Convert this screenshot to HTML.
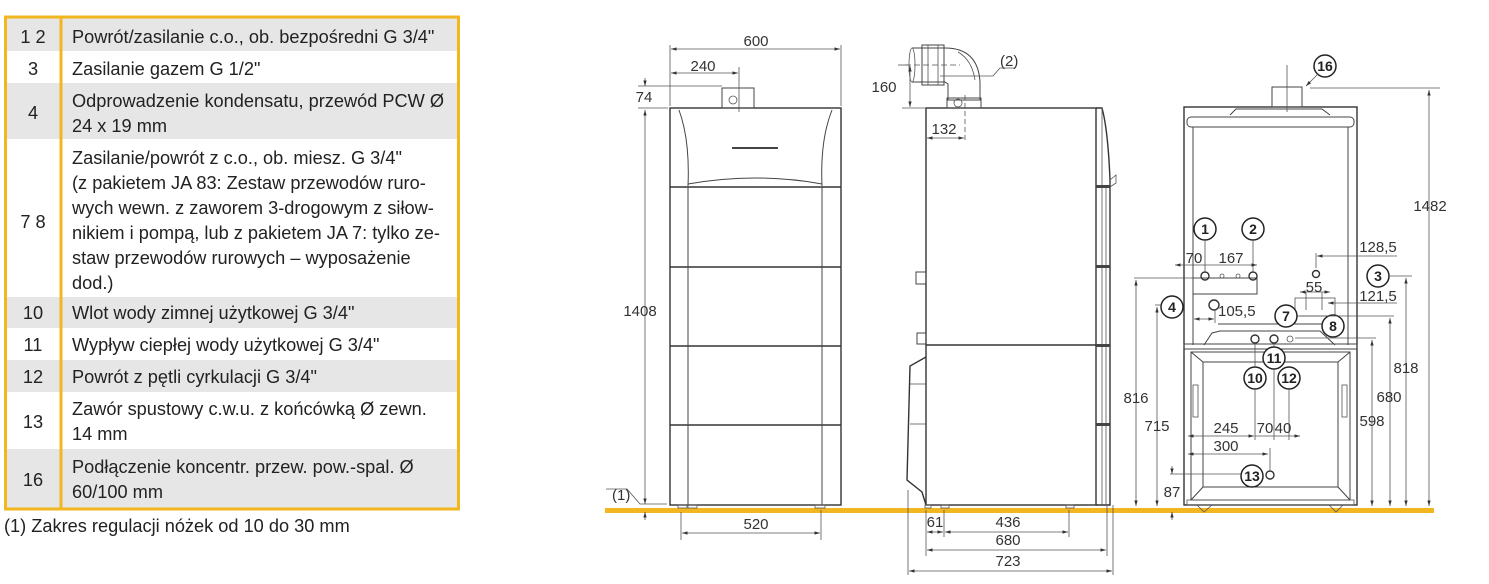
<!DOCTYPE html>
<html><head><meta charset="utf-8"><style>
html,body{margin:0;padding:0;background:#fff;}
body{width:1489px;height:584px;overflow:hidden;}
svg{display:block}
.t{font-family:"Liberation Sans","DejaVu Sans",sans-serif;font-size:18.2px;fill:#222;}
.d{font-family:"Liberation Sans",sans-serif;font-size:15px;fill:#333;}
.n{font-family:"Liberation Sans",sans-serif;font-size:14px;font-weight:bold;fill:#222;text-anchor:middle;}
.k{stroke:#333;stroke-width:1.4;fill:none}
.m{stroke:#444;stroke-width:1;fill:none}
.th{stroke:#555;stroke-width:0.8;fill:none}
</style></head><body>
<svg width="1489" height="584" viewBox="0 0 1489 584" xmlns="http://www.w3.org/2000/svg">
<defs>
<marker id="a" viewBox="0 0 10 10" refX="10" refY="5" markerWidth="7" markerHeight="7" orient="auto-start-reverse"><path d="M0,2 L10,5 L0,8 z" fill="#333"/></marker>
</defs>
<!-- TABLE -->
<g>
<rect x="6" y="17" width="452" height="34" fill="#e6e6e6"/>
<rect x="6" y="83" width="452" height="56" fill="#e6e6e6"/>
<rect x="6" y="297" width="452" height="31" fill="#e6e6e6"/>
<rect x="6" y="360" width="452" height="32" fill="#e6e6e6"/>
<rect x="6" y="449" width="452" height="59" fill="#e6e6e6"/>
<rect x="5.5" y="17" width="453" height="492" fill="none" stroke="#f2b620" stroke-width="3"/>
<line x1="61" y1="17" x2="61" y2="509" stroke="#f2b620" stroke-width="3"/>
<g class="t" text-anchor="middle">
<text x="33" y="43">1 2</text><text x="33" y="75">3</text><text x="33" y="119">4</text>
<text x="33" y="228">7 8</text><text x="33" y="319">10</text><text x="33" y="351">11</text>
<text x="33" y="383">12</text><text x="33" y="428">13</text><text x="33" y="486">16</text>
</g>
<g class="t">
<text x="72" y="43">Powrót/zasilanie c.o., ob. bezpośredni G 3/4"</text>
<text x="72" y="75">Zasilanie gazem G 1/2"</text>
<text x="72" y="107">Odprowadzenie kondensatu, przewód PCW Ø</text>
<text x="72" y="132">24 x 19 mm</text>
<text x="72" y="164">Zasilanie/powrót z c.o., ob. miesz. G 3/4"</text>
<text x="72" y="189">(z pakietem JA 83: Zestaw przewodów ruro-</text>
<text x="72" y="214">wych wewn. z zaworem 3-drogowym z siłow-</text>
<text x="72" y="239">nikiem i pompą, lub z pakietem JA 7: tylko ze-</text>
<text x="72" y="264">staw przewodów rurowych – wyposażenie</text>
<text x="72" y="289">dod.)</text>
<text x="72" y="319">Wlot wody zimnej użytkowej G 3/4"</text>
<text x="72" y="351">Wypływ ciepłej wody użytkowej G 3/4"</text>
<text x="72" y="383">Powrót z pętli cyrkulacji G 3/4"</text>
<text x="72" y="415">Zawór spustowy c.w.u. z końcówką  Ø zewn.</text>
<text x="72" y="440">14 mm</text>
<text x="72" y="473">Podłączenie koncentr. przew. pow.-spal. Ø</text>
<text x="72" y="498">60/100 mm</text>
<text x="4" y="532">(1) Zakres regulacji nóżek od 10 do 30 mm</text>
</g>
</g>

<!-- FLOOR -->
<rect x="605" y="508" width="829" height="5" fill="#f2b620"/>

<!-- FRONT VIEW -->
<g>
<rect x="670" y="108" width="171" height="397" class="k"/>
<line x1="670" y1="187" x2="841" y2="187" class="k"/>
<line x1="670" y1="267" x2="841" y2="267" class="k"/>
<line x1="670" y1="346" x2="841" y2="346" class="k"/>
<line x1="670" y1="425" x2="841" y2="425" class="k"/>
<line x1="688" y1="187" x2="688" y2="505" class="m"/>
<line x1="822" y1="187" x2="822" y2="505" class="m"/>
<path d="M679,110 Q690,140 688,186 M832,110 Q820,140 822,186" class="m"/>
<path d="M688,184 Q756,172 822,184" class="m"/>
<line x1="732" y1="148" x2="778" y2="148" stroke="#444" stroke-width="2"/>
<rect x="722" y="88" width="32" height="20" class="m"/>
<circle cx="733" cy="100" r="4" class="th"/>
<rect x="678" y="505" width="9" height="3" class="th"/><rect x="688" y="505" width="9" height="3" class="th"/><rect x="815" y="505" width="10" height="3" class="th"/>
<line x1="670" y1="45" x2="670" y2="106" class="th"/><line x1="841" y1="45" x2="841" y2="106" class="th"/>
<line x1="671" y1="49" x2="840" y2="49" class="th" marker-start="url(#a)" marker-end="url(#a)"/>
<text class="d" x="756" y="46" text-anchor="middle">600</text>
<line x1="739" y1="67" x2="739" y2="112" class="th"/>
<line x1="671" y1="73" x2="738" y2="73" class="th" marker-start="url(#a)" marker-end="url(#a)"/>
<text class="d" x="703" y="71" text-anchor="middle">240</text>
<line x1="638" y1="86" x2="722" y2="86" class="th"/><line x1="638" y1="108" x2="668" y2="108" class="th"/>
<line x1="645" y1="78" x2="645" y2="86" class="th" marker-end="url(#a)"/>
<text class="d" x="644" y="102" text-anchor="middle">74</text>
<line x1="645" y1="110" x2="645" y2="504" class="th" marker-start="url(#a)" marker-end="url(#a)"/>
<text class="d" x="640" y="316" text-anchor="middle">1408</text>
<line x1="645" y1="512" x2="645" y2="520" class="th" marker-start="url(#a)"/>
<path d="M606,489 L627,489 L640,504 L667,504" class="th"/>
<text class="d" x="612" y="500" font-size="12">(1)</text>
<line x1="681" y1="512" x2="681" y2="540" class="th"/><line x1="821" y1="510" x2="821" y2="540" class="th"/>
<line x1="682" y1="533" x2="820" y2="533" class="th" marker-start="url(#a)" marker-end="url(#a)"/>
<text class="d" x="756" y="529" text-anchor="middle">520</text>
</g>

<!-- SIDE VIEW -->
<g>
<rect x="926" y="108" width="170" height="397" class="k"/>
<path d="M1096,108 L1102,108 Q1108,130 1110,180 L1110,505 L1096,505" class="k"/>
<line x1="1102" y1="108" x2="1102" y2="505" class="th"/>
<line x1="1106" y1="186" x2="1106" y2="505" class="th"/>
<path d="M1110,180 L1116,175 L1116,183 L1110,187" class="th"/>
<rect x="1096" y="185" width="14" height="3" fill="#444"/><rect x="1096" y="265" width="14" height="3" fill="#444"/><rect x="1096" y="344" width="14" height="3" fill="#444"/><rect x="1096" y="423" width="14" height="3" fill="#444"/>
<line x1="926" y1="345" x2="1096" y2="345" class="k"/>
<rect x="916" y="272" width="10" height="12" class="m"/><rect x="917" y="333" width="9" height="11" class="m"/>
<path d="M926,357 L910,366 L907,480 L922,492 L926,505" class="k"/>
<line x1="910" y1="384" x2="926" y2="384" class="th"/><line x1="910" y1="424" x2="926" y2="424" class="th"/>
<path d="M912,48 L945,48 Q978,48 980,82 L980,100 L948,100 L948,84 L945,82 L912,82" class="m"/>
<ellipse cx="912" cy="65" rx="3" ry="17" class="th"/>
<rect x="922" y="45" width="22" height="40" class="m"/>
<line x1="928" y1="45" x2="928" y2="85" class="th"/><line x1="938" y1="45" x2="938" y2="85" class="th"/>
<path d="M958,52 Q972,60 975,80" class="th"/>
<rect x="947" y="98" width="34" height="10" class="m"/>
<circle cx="958" cy="103" r="4" class="th"/>
<line x1="905" y1="65" x2="960" y2="65" class="th" stroke-dasharray="6,3"/>
<line x1="965" y1="95" x2="965" y2="140" class="th" stroke-dasharray="5,3"/>
<line x1="940" y1="76" x2="993" y2="76" class="th"/><path d="M993,76 L1000,68 L1015,68" class="th"/>
<text class="d" x="1000" y="66" font-size="12">(2)</text>
<line x1="902" y1="108" x2="925" y2="108" class="th"/><line x1="898" y1="65" x2="910" y2="65" class="th"/>
<line x1="910" y1="66" x2="910" y2="107" class="th" marker-start="url(#a)" marker-end="url(#a)"/>
<text class="d" x="884" y="92" text-anchor="middle">160</text>
<line x1="927" y1="138" x2="964" y2="138" class="th" marker-start="url(#a)" marker-end="url(#a)"/>
<text class="d" x="944" y="134" text-anchor="middle">132</text>
<rect x="925" y="505" width="6" height="3" class="th"/><rect x="941" y="505" width="8" height="3" class="th"/><rect x="1066" y="505" width="8" height="3" class="th"/>
<line x1="908" y1="490" x2="908" y2="575" class="th"/>
<line x1="926" y1="510" x2="926" y2="556" class="th"/>
<line x1="944" y1="510" x2="944" y2="537" class="th"/>
<line x1="1069" y1="510" x2="1069" y2="537" class="th"/>
<line x1="1107" y1="505" x2="1107" y2="556" class="th"/>
<line x1="1113" y1="505" x2="1113" y2="575" class="th"/>
<line x1="927" y1="532" x2="943" y2="532" class="th" marker-start="url(#a)" marker-end="url(#a)"/>
<line x1="945" y1="532" x2="1068" y2="532" class="th" marker-start="url(#a)" marker-end="url(#a)"/>
<text class="d" x="935" y="527" text-anchor="middle">61</text>
<text class="d" x="1008" y="527" text-anchor="middle">436</text>
<line x1="927" y1="550" x2="1106" y2="550" class="th" marker-start="url(#a)" marker-end="url(#a)"/>
<text class="d" x="1008" y="545" text-anchor="middle">680</text>
<line x1="909" y1="571" x2="1112" y2="571" class="th" marker-start="url(#a)" marker-end="url(#a)"/>
<text class="d" x="1008" y="566" text-anchor="middle">723</text>
</g>

<!-- BACK VIEW -->
<g>
<rect x="1184" y="107" width="173" height="398" class="k"/>
<rect x="1272" y="87" width="30" height="20" class="m"/>
<path d="M1230,115 L1236,109 L1322,109 L1330,115" class="m"/>
<rect x="1187" y="117" width="167" height="10" rx="4" class="m"/>
<line x1="1193" y1="127" x2="1193" y2="345" class="m"/>
<line x1="1348" y1="127" x2="1348" y2="345" class="m"/>
<line x1="1287" y1="65" x2="1287" y2="112" class="th"/>
<line x1="1310" y1="88" x2="1440" y2="88" class="th"/>
<rect x="1184" y="344" width="173" height="5" class="m"/>
<path d="M1204,345 L1212,333 L1220,331 L1320,331 L1335,345" class="m"/>
<line x1="1218" y1="324" x2="1322" y2="324" class="m"/>
<path d="M1191,352 L1350,352 M1191,352 L1203,362 L1338,362 L1350,352" class="m"/>
<rect x="1191" y="352" width="159" height="148" class="m"/>
<path d="M1203,362 L1203,487 L1191,500 M1338,362 L1338,487 L1350,500 M1203,487 L1338,487" class="m"/>
<rect x="1193" y="385" width="5" height="32" class="th"/><rect x="1342" y="385" width="5" height="32" class="th"/>
<rect x="1187" y="500" width="167" height="5" class="th"/>
<path d="M1197,505 L1204,512 L1212,505 M1329,505 L1336,512 L1343,505" class="th"/>
<rect x="1193" y="278" width="64" height="16" class="m"/>
<circle cx="1205" cy="276" r="4" class="k"/><circle cx="1253" cy="276" r="4" class="k"/>
<circle cx="1222" cy="276" r="2" class="th"/><circle cx="1238" cy="276" r="2" class="th"/>
<circle cx="1316" cy="274" r="3.5" class="k"/>
<circle cx="1214" cy="305" r="5" class="k"/>
<circle cx="1255" cy="339" r="4" class="k"/><circle cx="1274" cy="339" r="4" class="k"/>
<circle cx="1290" cy="339" r="3" class="th"/>
<rect x="1295" y="298" width="40" height="18" class="th"/>
<circle cx="1270" cy="475" r="4" class="k"/>
<g class="n">
<g fill="#fff" stroke="#222" stroke-width="1.5">
<circle cx="1325" cy="66" r="11"/><circle cx="1205" cy="229" r="11"/><circle cx="1253" cy="229" r="11"/>
<circle cx="1378" cy="276" r="11"/><circle cx="1172" cy="307" r="11"/><circle cx="1286" cy="316" r="11"/>
<circle cx="1333" cy="326" r="11"/><circle cx="1274" cy="358" r="11"/><circle cx="1255" cy="378" r="11"/>
<circle cx="1289" cy="378" r="11"/><circle cx="1252" cy="476" r="11"/>
</g>
<text x="1325" y="71">16</text><text x="1205" y="234">1</text><text x="1253" y="234">2</text>
<text x="1378" y="281">3</text><text x="1172" y="312">4</text><text x="1286" y="321">7</text>
<text x="1333" y="331">8</text><text x="1274" y="363">11</text><text x="1255" y="383">10</text>
<text x="1289" y="383">12</text><text x="1252" y="481">13</text>
</g>
<line x1="1318" y1="74" x2="1306" y2="86" class="th" marker-end="url(#a)"/>
<line x1="1205" y1="240" x2="1205" y2="272" class="th"/><line x1="1253" y1="240" x2="1253" y2="272" class="th"/>
<line x1="1255" y1="389" x2="1255" y2="440" class="th"/><line x1="1274" y1="369" x2="1274" y2="440" class="th"/><line x1="1289" y1="389" x2="1289" y2="440" class="th"/>
<line x1="1274" y1="343" x2="1274" y2="347" class="th"/><line x1="1255" y1="343" x2="1255" y2="367" class="th"/>
<line x1="1175" y1="265" x2="1257" y2="265" class="th" marker-start="url(#a)" marker-end="url(#a)"/>
<text class="d" x="1194" y="263" text-anchor="middle">70</text><text class="d" x="1231" y="263" text-anchor="middle">167</text>
<line x1="1316" y1="253" x2="1316" y2="268" class="th"/>
<line x1="1317" y1="256" x2="1348" y2="256" class="th" marker-start="url(#a)"/><line x1="1348" y1="256" x2="1397" y2="256" class="th"/>
<text class="d" x="1378" y="252" text-anchor="middle">128,5</text>
<line x1="1389" y1="276" x2="1412" y2="276" class="th"/>
<line x1="1300" y1="292" x2="1330" y2="292" class="th" marker-start="url(#a)" marker-end="url(#a)"/>
<line x1="1306" y1="292" x2="1306" y2="310" class="th"/><line x1="1322" y1="292" x2="1322" y2="310" class="th"/>
<text class="d" x="1314" y="292" text-anchor="middle">55</text>
<line x1="1328" y1="303" x2="1348" y2="303" class="th" marker-start="url(#a)"/><line x1="1348" y1="303" x2="1397" y2="303" class="th"/>
<text class="d" x="1378" y="301" text-anchor="middle">121,5</text>
<line x1="1194" y1="319" x2="1214" y2="319" class="th" marker-start="url(#a)" marker-end="url(#a)"/>
<line x1="1215" y1="309" x2="1215" y2="323" class="th"/>
<text class="d" x="1218" y="316">105,5</text>
<line x1="1134" y1="278" x2="1200" y2="278" class="th"/>
<line x1="1136" y1="280" x2="1136" y2="506" class="th" marker-start="url(#a)" marker-end="url(#a)"/>
<text class="d" x="1136" y="403" text-anchor="middle">816</text>
<line x1="1155" y1="305" x2="1161" y2="305" class="th"/>
<line x1="1157" y1="307" x2="1157" y2="506" class="th" marker-start="url(#a)" marker-end="url(#a)"/>
<text class="d" x="1157" y="431" text-anchor="middle">715</text>
<line x1="1170" y1="474" x2="1241" y2="474" class="th"/>
<line x1="1172" y1="466" x2="1172" y2="474" class="th" marker-end="url(#a)"/>
<line x1="1172" y1="512" x2="1172" y2="520" class="th" marker-start="url(#a)"/>
<text class="d" x="1172" y="497" text-anchor="middle">87</text>
<line x1="1188" y1="436" x2="1254" y2="436" class="th" marker-start="url(#a)" marker-end="url(#a)"/>
<line x1="1255" y1="436" x2="1300" y2="436" class="th" marker-end="url(#a)"/>
<text class="d" x="1226" y="433" text-anchor="middle">245</text><text class="d" x="1265" y="433" text-anchor="middle">70</text><text class="d" x="1283" y="433" text-anchor="middle">40</text>
<line x1="1188" y1="454" x2="1268" y2="454" class="th" marker-start="url(#a)" marker-end="url(#a)"/>
<line x1="1270" y1="448" x2="1270" y2="470" class="th"/>
<text class="d" x="1226" y="451" text-anchor="middle">300</text>
<line x1="1429" y1="90" x2="1429" y2="506" class="th" marker-start="url(#a)" marker-end="url(#a)"/>
<text class="d" x="1430" y="211" text-anchor="middle">1482</text>
<line x1="1406" y1="278" x2="1406" y2="506" class="th" marker-start="url(#a)" marker-end="url(#a)"/>
<text class="d" x="1406" y="373" text-anchor="middle">818</text>
<line x1="1300" y1="316" x2="1394" y2="316" class="th"/>
<line x1="1390" y1="318" x2="1390" y2="506" class="th" marker-start="url(#a)" marker-end="url(#a)"/>
<text class="d" x="1389" y="402" text-anchor="middle">680</text>
<line x1="1295" y1="338" x2="1376" y2="338" class="th"/>
<line x1="1372" y1="340" x2="1372" y2="506" class="th" marker-start="url(#a)" marker-end="url(#a)"/>
<text class="d" x="1372" y="426" text-anchor="middle">598</text>
</g>
</svg>
</body></html>
